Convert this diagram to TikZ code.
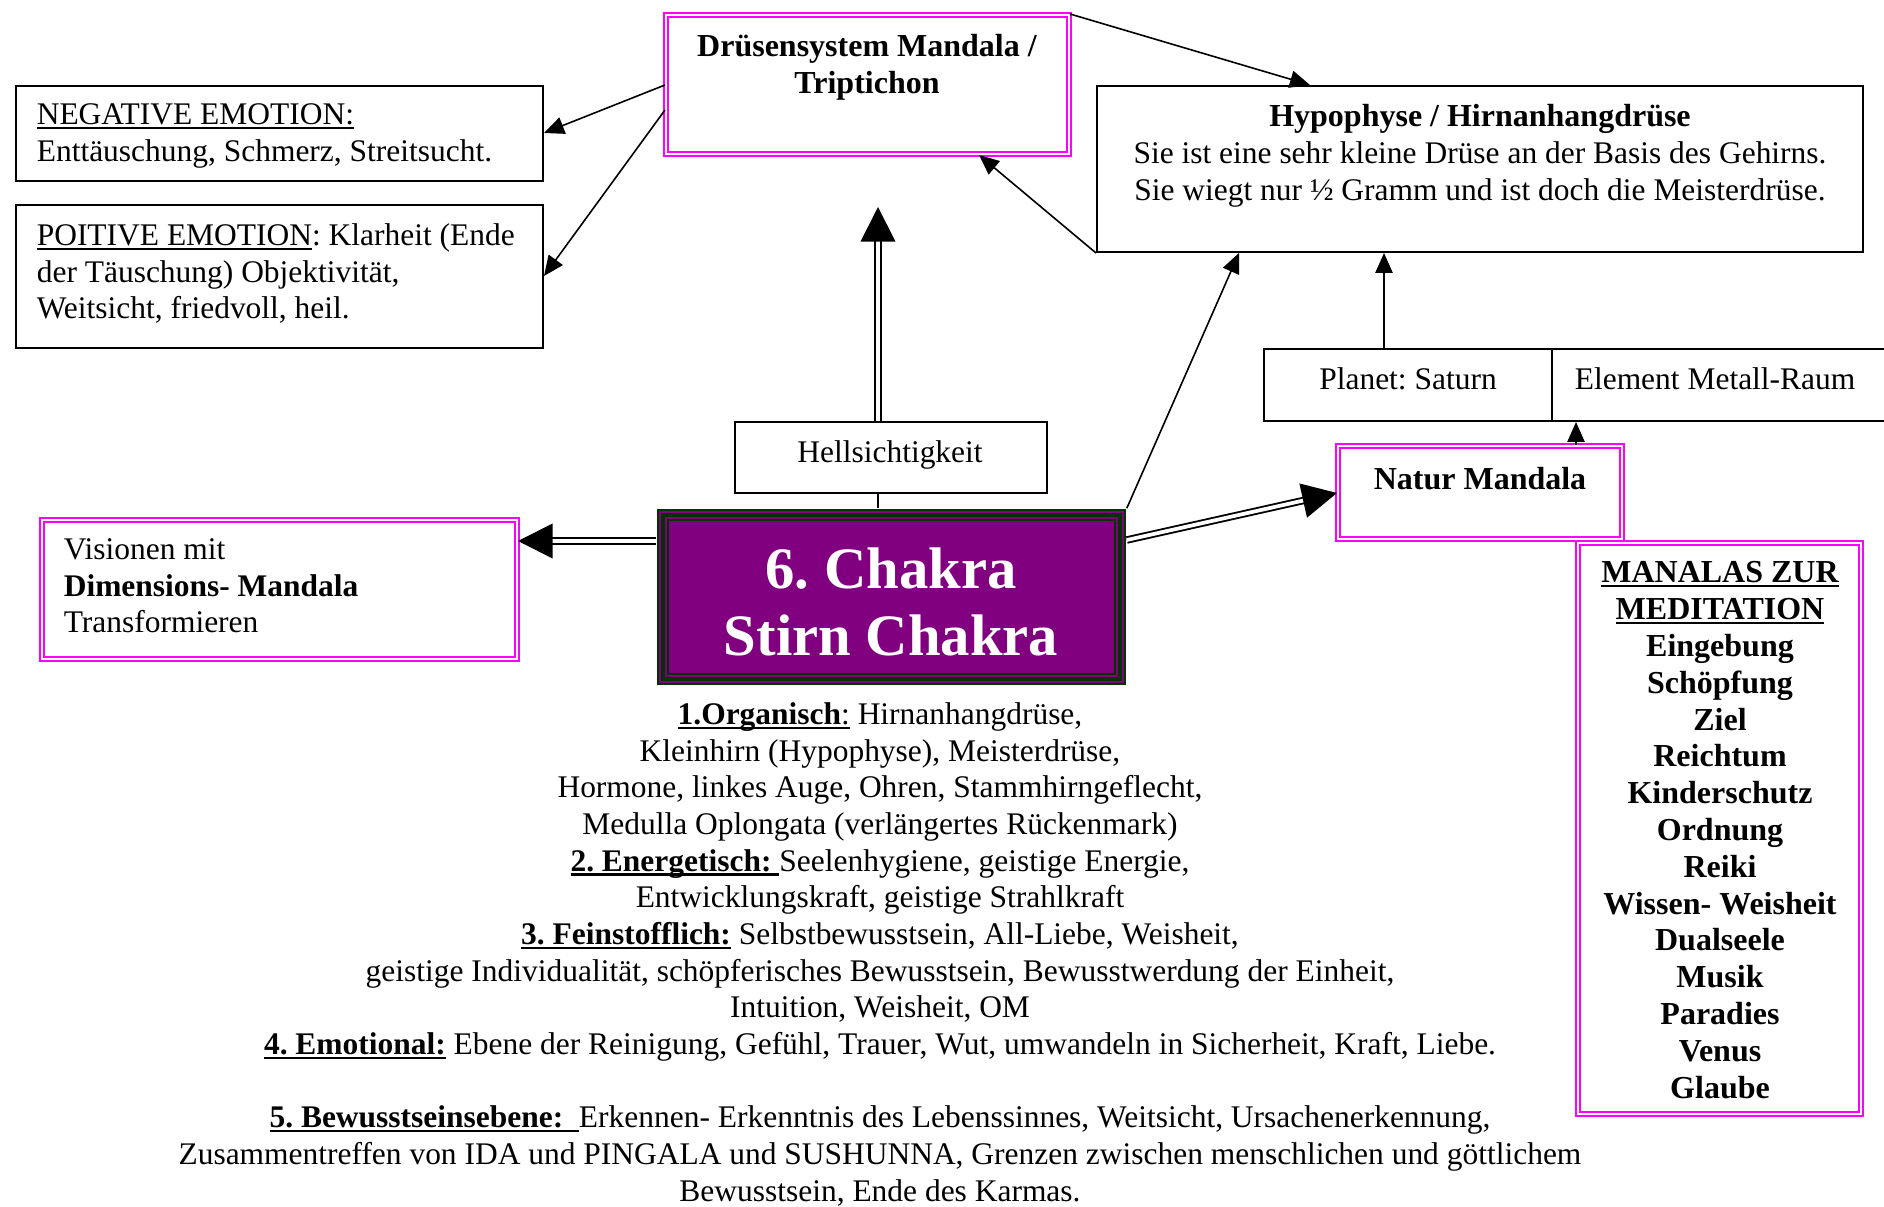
\documentclass[tikz,border=0pt]{standalone}
\usepackage{fontspec}
\setmainfont{Liberation Serif}
\usetikzlibrary{arrows.meta,fit}
\newcommand{\unter}[1]{\setbox0\hbox{#1}\rlap{\rule[-1.6pt]{\wd0}{0.8pt}}\box0\relax}
\definecolor{mandalapink}{RGB}{255,0,255}
\definecolor{chakrapurple}{RGB}{128,0,128}
\definecolor{chakragreen}{RGB}{0,51,0}
\tikzstyle{box} = [draw, line width=0.75pt, inner sep=0pt]
\tikzstyle{mandala} = [draw=mandalapink, double=white, line width=0.75pt, double distance=0.75pt, inner sep=0pt]
\tikzstyle{txt} = [inner sep=0pt, align=center, font=\fontsize{11.8}{13.75}\selectfont]
\tikzstyle{fett} = [font=\fontsize{12}{13.8}\selectfont\bfseries]
\tikzstyle{dbl} = [double, line width=0.7pt, double distance=1.4pt, -{Triangle[length=13pt,width=13pt]}]

\begin{document}
\frenchspacing
\begin{tikzpicture}[->,>={Triangle[length=7.5pt,width=6.5pt]},semithick,x=0.375pt,y=-0.375pt]
  \useasboundingbox (0,0) rectangle (1884,1207);
  % boxes
  \node[mandala,fit={(666,15) (1069,154)}] (druesen) {};
  \node[box,fit={(16,86) (543,181)}] (negativ) {};
  \node[box,fit={(16,205) (543,348)}] (positiv) {};
  \node[box,fit={(1097,86) (1863,252)}] (hypophyse) {};
  \node[box,fit={(1264,349) (1552,421)}] (planet) {};
  \node[box,fit={(1552,349) (1892,421)}] (element) {};
  \node[box,fit={(735,422) (1047,493)}] (hell) {};
  \node[mandala,fit={(42,520) (517,659)}] (visionen) {};
  \node[mandala,fit={(1338,446) (1622,539)}] (natur) {};
  \node[mandala,fit={(1578,543) (1861,1114)}] (manalas) {};
  \node[fill=chakragreen,inner sep=0pt,fit={(657,509) (1126,685)}] (chakra) {};
  \draw[-,chakrapurple,line width=0.75pt] ([shift={(4,4)}]chakra.north west) rectangle ([shift={(-4,-4)}]chakra.south east);
  \draw[-,chakrapurple,line width=0.75pt] ([shift={(10,10)}]chakra.north west) rectangle ([shift={(-10,-10)}]chakra.south east);
  \fill[chakrapurple] ([shift={(13,13)}]chakra.north west) rectangle ([shift={(-13,-13)}]chakra.south east);

  % texts
  \node[txt,fett,anchor=north] (druesentxt) at (867,34) {Drüsensystem Mandala /\\Triptichon};
  \node[txt,anchor=north west,align=left] (negativtxt) at (36,103) {\unter{NEGATIVE EMOTION:}\\Enttäuschung, Schmerz, Streitsucht.};
  \node[txt,anchor=north west,align=left] (positivtxt) at (36,223) {\unter{POITIVE EMOTION}: Klarheit (Ende\\der Täuschung) Objektivität,\\Weitsicht, friedvoll, heil.};
  \node[txt,anchor=north] (hypophysetxt) at (1480,104) {\fontsize{12}{13.8}\selectfont\textbf{Hypophyse / Hirnanhangdrüse}\\Sie ist eine sehr kleine Drüse an der Basis des Gehirns.\\Sie wiegt nur ½ Gramm und ist doch die Meisterdrüse.};
  \node[txt] (planettxt) at (1408,379) {Planet: Saturn};
  \node[txt,anchor=west] (elementtxt) at (1574,379) {Element Metall-Raum};
  \node[txt] (helltxt) at (890,455) {Hellsichtigkeit};
  \node[txt,anchor=north west,align=left] (visionentxt) at (63,538) {Visionen mit\\\textbf{Dimensions- Mandala}\\Transformieren};
  \node[txt,fett,anchor=north] (naturtxt) at (1480,467) {Natur Mandala};
  \node[txt,fett,anchor=north] (manalastxt) at (1720,561) {\unter{MANALAS ZUR}\\\unter{MEDITATION}\\Eingebung\\Schöpfung\\Ziel\\Reichtum\\Kinderschutz\\Ordnung\\Reiki\\Wissen- Weisheit\\Dualseele\\Musik\\Paradies\\Venus\\Glaube};
  \node[txt,text=white,font=\fontsize{22}{25}\selectfont\bfseries] (chakratxt) at (891,602) {6. Chakra\\Stirn Chakra};
  \node[txt,anchor=north] (ebenen) at (880,702) {\unter{\textbf{1.Organisch}:} Hirnanhangdrüse,\\
    Kleinhirn (Hypophyse), Meisterdrüse,\\
    Hormone, linkes Auge, Ohren, Stammhirngeflecht,\\
    Medulla Oplongata (verlängertes Rückenmark)\\
    \unter{\textbf{2. Energetisch: }}Seelenhygiene, geistige Energie,\\
    Entwicklungskraft, geistige Strahlkraft\\
    \unter{\textbf{3. Feinstofflich:}} Selbstbewusstsein, All-Liebe, Weisheit,\\
    geistige Individualität, schöpferisches Bewusstsein, Bewusstwerdung der Einheit,\\
    Intuition, Weisheit, OM\\
    \unter{\textbf{4. Emotional:}} Ebene der Reinigung, Gefühl, Trauer, Wut, umwandeln in Sicherheit, Kraft, Liebe.\\[13.75pt]
    \unter{\textbf{5. Bewusstseinsebene:\ \ }}Erkennen- Erkenntnis des Lebenssinnes, Weitsicht, Ursachenerkennung,\\
    Zusammentreffen von IDA und PINGALA und SUSHUNNA, Grenzen zwischen menschlichen und göttlichem\\
    Bewusstsein, Ende des Karmas.};
  \coordinate (hellspitze) at (878,207);

  % connectors
  \draw (druesen.west |- 0,85) -- (negativ.east |- 0,133);
  \draw (druesen.west |- 0,110) -- (positiv.east |- 0,276);
  \draw (druesen.north east) -- (hypophyse.north -| 1310,0);
  \draw (hypophyse.south west) -- (druesen.south -| 979,0);
  \draw (chakra.north east) -- (hypophyse.south -| 1239,0);
  \draw (planet.north -| 1384,0) -- (hypophyse.south -| 1384,0);
  \draw (natur.north -| 1576,0) -- (element.south -| 1576,0);
  \draw[-] (chakra.north -| 878,0) -- (hell.south -| 878,0);
  \draw[dbl] (hell.north -| 878,0) -- (hellspitze);
  \draw[dbl] (chakra.east |- 0,540) -- (natur.west |- 0,493);
  \draw[dbl] (chakra.west |- 0,541) -- (visionen.east |- 0,541);
\end{tikzpicture}
\end{document}
